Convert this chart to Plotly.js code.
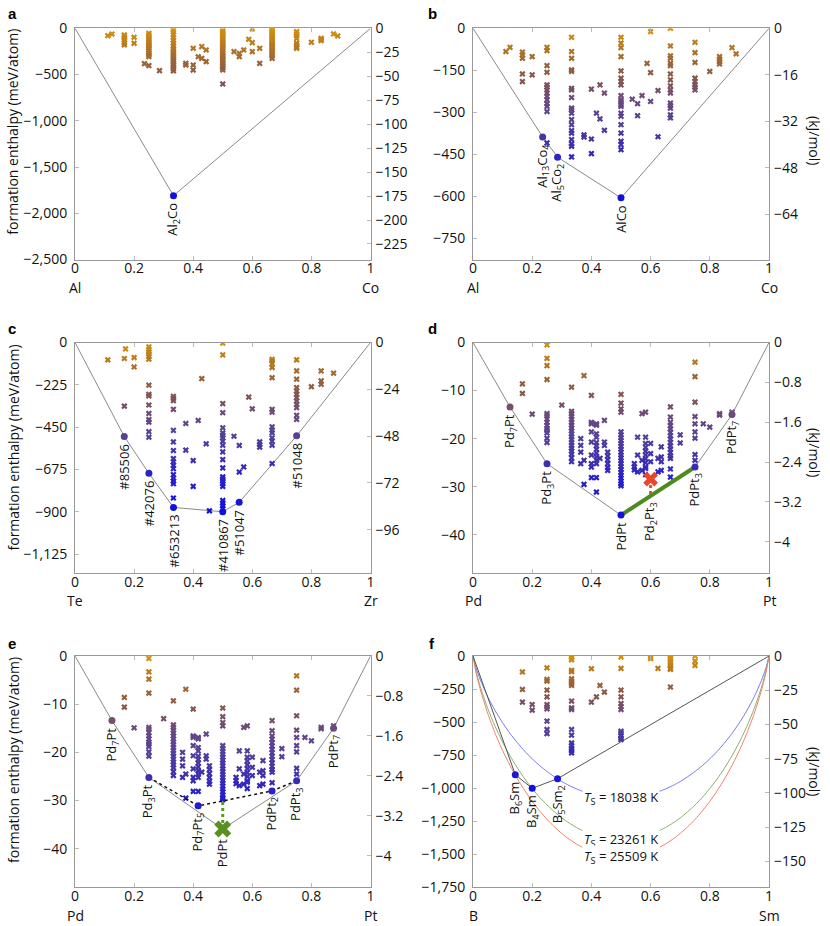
<!DOCTYPE html>
<html><head><meta charset="utf-8">
<script src="https://cdn.plot.ly/plotly-3.0.1.min.js"></script>
<style>html,body{margin:0;padding:0;background:#fff}#plot{width:830px;height:926px}</style>
</head><body><div id="plot"></div>
<script>
// meV/atom -> kJ/mol conversion for the right-hand axes
const K = 0.0964853;

// ---------- panel a : Al-Co ----------
const aComp = [0.111,0.125,0.167,0.2,0.235,0.25,0.286,0.333,0.375,0.4,0.417,0.429,0.444,0.5,0.538,0.556,0.571,0.588,0.6,0.625,0.667,0.75,0.8,0.833,0.875,0.889];
const aE = [[-80],[-62],[-72,-90,-108,-126,-162,-180],[-97,-162],[-382],
 [-54,-70,-90,-110,-130,-150,-170,-190,-210,-230,-250,-270,-290,-307,-404],[-458],
 [-18,-40,-70,-100,-130,-160,-190,-220,-240,-260,-280,-300,-320,-340,-360,-380,-400,-420,-440,-460],
 [-379,-397],[-216,-397,-451],[-307],[-198,-325],[-234,-360],
 [-25,-40,-55,-70,-90,-110,-130,-150,-170,-190,-210,-230,-250,-270,-290,-310,-330,-350,-370,-390,-410,-430,-450,-602],
 [-252],[-270,-307],[-234],[-119],[-7,-155,-252],[-216,-379],
 [0,-20,-40,-60,-80,-100,-120,-140,-160,-180,-200,-220,-240,-260,-280,-300,-325],
 [-36,-60,-80,-110,-160,-180,-200,-216],[-151],[-108,-120,-133],[-61],[-83]];
const aHullX = [0,0.3333,1];
const aHullY = [0,-1810,0];
const aMarkX = [0.3333];
const aMarkY = [-1810];
const aLabels = ['Al<sub>2</sub>Co'];

// ---------- panel b : Al-Co ----------
const bComp = [0.111,0.125,0.167,0.2,0.25,0.333,0.375,0.4,0.417,0.429,0.444,0.5,0.538,0.556,0.571,0.588,0.6,0.625,0.667,0.75,0.8,0.833,0.875,0.889];
const bE = [[-83],[-68],[-85,-95,-107,-163,-190],[-101,-166],
 [-68,-80,-133,-157,-202,-210,-220,-231,-243,-255,-269,-279,-297,-409],
 [-32,-83,-107,-148,-154,-214,-220,-247,-285,-291,-303,-326,-344,-365,-374,-397,-412,-421,-459],
 [-380,-388],[-217,-395,-447],[-303],[-202,-323],[-231,-364],
 [-32,-53,-69,-101,-152,-178,-190,-202,-240,-255,-261,-273,-279,-303,-314,-344,-374,-403,-415,-433],
 [-253],[-269,-312],[-240],[-125],[-12,-158,-261],[-222,-387],
 [0,-63,-98,-107,-125,-133,-163,-184,-205,-220,-231,-267,-276,-285,-309,-320],
 [-50,-87,-122,-178,-190,-202,-210,-220],[-154],[-101,-110,-119,-127],[-69],[-91]];
const bHullX = [0,0.2353,0.2857,0.5,1];
const bHullY = [0,-388,-460,-605,0];
const bMarkX = [0.2353,0.2857,0.5];
const bMarkY = [-388,-460,-605];
const bLabels = ['Al<sub>13</sub>Co<sub>4</sub>','Al<sub>5</sub>Co<sub>2</sub>','AlCo'];

// ---------- panel c : Te-Zr ----------
const cComp = [0.111,0.167,0.171,0.2,0.25,0.333,0.375,0.4,0.417,0.429,0.444,0.455,0.5,0.538,0.556,0.571,0.588,0.6,0.625,0.667,0.75,0.8,0.833,0.875];
const cE = [[-92],[-85,-338],[-34],[-80,-130],
 [-23,-36,-50,-62,-75,-89,-227,-275,-284,-332,-377,-410,-423,-474,-503],
 [-286,-297,-309,-355,-467,-528,-574,-617,-634,-652,-670,-702,-720,-737,-750,-826],
 [-430,-572],[-627,-764],[-414],[-192],[-538],[-894],
 [-4,-66,-325,-373,-453,-480,-492,-506,-524,-546,-581,-622,-666,-714,-725,-737,-750,-764,-839,-853,-867,-883],
 [-498],[-547,-688],[-661],[-290],[-352],[-528,-542,-556],
 [-89,-98,-112,-133,-187,-355,-370,-448,-466,-480,-506,-524,-546,-643],
 [-92,-151,-195,-240,-258,-275,-293,-311,-329,-346,-387,-409],[-235],[-151,-204,-222],[-163]];
const cHullX = [0,0.1667,0.25,0.3333,0.5,0.5556,0.75,1];
const cHullY = [0,-499,-695,-876,-899,-849,-496,0];
const cMarkX = [0.1667,0.25,0.3333,0.5,0.5556,0.75];
const cMarkY = [-499,-695,-876,-899,-849,-496];
const cLabels = ['#85506','#42076','#653213','#410867','#51047','#51048'];

// ---------- panels d and e : Pd-Pt ----------
const dComp = [0.167,0.2,0.25,0.3,0.333,0.364,0.375,0.4,0.417,0.429,0.444,0.455,0.5,0.545,0.556,0.571,0.583,0.6,0.625,0.636,0.667,0.7,0.75,0.778,0.8,0.833,0.875];
const dE = [[-8.6,-10.6],[-14.9],
 [-0.5,-3.3,-4.8,-7.7,-14.8,-15.2,-15.9,-16.6,-17.2,-17.9,-18.3,-18.8,-19.9,-20.8],[-13.0],
 [-9.3,-14.3,-14.8,-15.4,-16,-16.6,-17.2,-17.8,-18.4,-19,-19.6,-20.2,-20.8,-21.4,-22,-22.6,-23.2,-24,-24.8],
 [-20,-21.4,-22.8,-25.2],[-6.9,-24.5,-29.5],[-11,-16.6,-16.9,-18.6,-20.7,-23.4,-25.2,-25.9,-28.1],
 [-16.9,-17.2,-19,-19.7,-20.8,-21.5,-22.2,-23,-23.8,-24.5,-25.2,-28.1,-31.1],[-24.1],[-16.2,-20.7,-21.4],
 [-22.8,-23.6,-24.4,-25.2,-26,-26.6],
 [-10.8,-12.6,-13.8,-14.5,-18.6,-19.2,-19.8,-20.4,-21,-21.6,-22.2,-22.8,-23.4,-24,-24.6,-25.2,-25.8,-26.4,-27,-27.6,-28.2,-28.8,-29.4,-29.8],
 [-25.2,-25.9,-26.5],[-19.7,-23.4,-26.9],[-14.8,-24.5,-26.6],
 [-14.5,-19.7,-21,-21.8,-22.6,-23.4,-24.2,-25,-25.9,-26.2,-27.5],[-21,-23.1,-24.8],[-24.1,-26.9],
 [-21.7,-23.8,-24.8,-26.6],
 [-13.4,-15.5,-16.6,-17.3,-18,-18.7,-19.4,-20.1,-20.8,-21.5,-22.2,-22.9,-23.6,-24.1,-26.3,-28],
 [-19.2,-20.9],[-4.1,-7.1,-12.4,-15.4,-16.9,-18.6,-19.9,-23.3,-24.5],[-16.9],[-17.6],[-14.8,-15.1],[-14.5]];
const dHullX = [0,0.125,0.25,0.5,0.75,0.875,1];
const dHullY = [0,-13.4,-25.2,-35.9,-25.9,-15.0,0];
const dMarkX = [0.125,0.25,0.5,0.75,0.875];
const dMarkY = [-13.4,-25.2,-35.9,-25.9,-15.0];
const dLabels = ['Pd<sub>7</sub>Pt','Pd<sub>3</sub>Pt','PdPt','PdPt<sub>3</sub>','PdPt<sub>7</sub>'];
const dTieX = [0.5,0.75];            // green tie line PdPt - PdPt3
const dTieY = [-35.9,-25.9];
const dNewX = [0.6];                 // red cross Pd2Pt3
const dNewY = [-28.4];
const dNewHullY = [-31.9];
const dNewLabel = ['Pd<sub>2</sub>Pt<sub>3</sub>'];

const eMarkX = [0.125,0.25,0.4167,0.6667,0.75,0.875];
const eMarkY = [-13.4,-25.2,-31.1,-28.0,-25.9,-15.0];
const eLabels = ['Pd<sub>7</sub>Pt','Pd<sub>3</sub>Pt','Pd<sub>7</sub>Pt<sub>5</sub>','PdPt<sub>2</sub>','PdPt<sub>3</sub>','PdPt<sub>7</sub>'];
const eTieX = [0.25,0.4167,0.6667,0.75];  // dotted hull without PdPt
const eTieY = [-25.2,-31.1,-28.0,-25.9];
const eOldX = [0.5];                       // green cross PdPt
const eOldY = [-35.9];
const eOldTieY = [-30.1];
const eOldLabel = ['PdPt'];

// ---------- panel f : B-Sm ----------
const fComp = [0.167,0.2,0.25,0.333,0.4,0.417,0.429,0.444,0.5,0.6,0.625,0.667,0.75];
const fE = [[-121,-253,-349],[-367,-410],
 [-89,-177,-190,-258,-309,-367,-384,-400,-493,-556,-587],
 [-5,-18,-30,-109,-119,-172,-190,-207,-223,-341,-392,-405,-556,-599,-658,-678,-700,-716,-733],
 [-96,-349],[-309],[-223],[-273],
 [-8,-94,-258,-309,-359,-384,-405,-569,-582,-602,-620,-632],
 [-10,-20],[-94],[0,-13,-25,-43,-58,-76,-94,-101,-235],[0,-38,-71]];
const fHullX = [0,0.1429,0.2,0.2857,1];
const fHullY = [0,-898,-1001,-928,0];
const fMarkX = [0.1429,0.2,0.2857];
const fMarkY = [-898,-1001,-928];
const fLabels = ['B<sub>6</sub>Sm','B<sub>4</sub>Sm','B<sub>5</sub>Sm<sub>2</sub>'];
// entropy-stabilisation curves
const fCurveX = [0,0.01,0.025,0.05,0.075,0.1,0.125,0.15,0.175,0.2,0.225,0.25,0.275,0.3,0.325,0.35,0.375,0.4,0.425,0.45,0.475,0.5,
 0.525,0.55,0.575,0.6,0.625,0.65,0.675,0.7,0.725,0.75,0.775,0.8,0.825,0.85,0.875,0.9,0.925,0.95,0.975,0.99,1];
const fBlue = [0,-87,-182,-309,-414,-505,-586,-657,-721,-778,-829,-874,-914,-950,-980,-1006,-1028,-1046,-1060,-1070,-1075,-1077,
 -1075,-1070,-1060,-1046,-1028,-1006,-980,-950,-914,-874,-829,-778,-721,-657,-586,-505,-414,-309,-182,-87,0];
const fGreen = [0,-112,-234,-398,-534,-652,-755,-847,-930,-1003,-1069,-1127,-1179,-1225,-1264,-1298,-1326,-1349,-1367,-1379,-1387,-1389,
 -1387,-1379,-1367,-1349,-1326,-1298,-1264,-1225,-1179,-1127,-1069,-1003,-930,-847,-755,-652,-534,-398,-234,-112,0];
const fRed = [0,-123,-257,-436,-586,-715,-828,-929,-1019,-1100,-1172,-1236,-1293,-1343,-1386,-1423,-1454,-1479,-1499,-1513,-1521,-1524,
 -1521,-1513,-1499,-1479,-1454,-1423,-1386,-1343,-1293,-1236,-1172,-1100,-1019,-929,-828,-715,-586,-436,-257,-123,0];
const fTemps = ['18038','23261','25509'];

// ---------- drawing ----------
const FONT = 'Open Sans';
const CS = [[0,'#1010e0'],[0.22,'#2a22c8'],[0.3,'#3c2eb0'],[0.44,'#52409a'],[0.58,'#6c4a7c'],[0.7,'#86584e'],[0.8,'#9c6536'],[0.9,'#ba7a1e'],[1,'#d8930a']];
const COLS = {L:[75/830,370.5/830], R:[473/830,769/830]};
const ROWS = [[1-259.5/926,1-28.3/926],[1-573.3/926,1-342.5/926],[1-887.3/926,1-656/926]];

function flat(comp,E){const x=[],y=[];comp.forEach((c,i)=>E[i].forEach(v=>{x.push(c);y.push(v);}));return {x,y};}

const panels = [
 {n:1,letter:'a',col:'L',row:0,comp:aComp,E:aE,hx:aHullX,hy:aHullY,mx:aMarkX,my:aMarkY,lab:aLabels,ymin:-2500,dy:500,dr:25,el:['Al','Co'],left:true},
 {n:2,letter:'b',col:'R',row:0,comp:bComp,E:bE,hx:bHullX,hy:bHullY,mx:bMarkX,my:bMarkY,lab:bLabels,ymin:-825,dy:150,dr:16,el:['Al','Co'],right:true},
 {n:3,letter:'c',col:'L',row:1,comp:cComp,E:cE,hx:cHullX,hy:cHullY,mx:cMarkX,my:cMarkY,lab:cLabels,ymin:-1226,dy:225,dr:24,el:['Te','Zr'],left:true},
 {n:4,letter:'d',col:'R',row:1,comp:dComp,E:dE,hx:dHullX,hy:dHullY,mx:dMarkX,my:dMarkY,lab:dLabels,ymin:-48,dy:10,dr:0.8,el:['Pd','Pt'],right:true},
 {n:5,letter:'e',col:'L',row:2,comp:dComp,E:dE,hx:dHullX,hy:dHullY,mx:eMarkX,my:eMarkY,lab:eLabels,ymin:-48,dy:10,dr:0.8,el:['Pd','Pt'],left:true,cmin:-35.9},
 {n:6,letter:'f',col:'R',row:2,comp:fComp,E:fE,hx:fHullX,hy:fHullY,mx:fMarkX,my:fMarkY,lab:fLabels,ymin:-1750,dy:250,dr:25,el:['B','Sm'],right:true,hullColor:'#555'}
];

const traces=[], annotations=[];
const layout = {width:830,height:926,margin:{l:0,r:0,t:0,b:0},paper_bgcolor:'#fff',plot_bgcolor:'#fff',showlegend:false,
  font:{family:FONT,size:13,color:'#111'}};
const tickFont = {family:FONT,size:14,color:'#111'};
const lblFont = {family:FONT,size:13,color:'#111'};

panels.forEach(p=>{
  const xs = p.n===1?'':String(p.n);
  const yl = 2*p.n-1, yr = 2*p.n;
  const ylS = yl===1?'':String(yl), yrS=String(yr);
  const xref='x'+xs, yref='y'+ylS, yrref='y'+yrS;
  const cmin = p.cmin!==undefined?p.cmin:Math.min(...p.my);
  layout['xaxis'+xs] = {domain:COLS[p.col],anchor:yref,range:[0,1],tick0:0,dtick:0.2,ticks:'inside',ticklen:4,tickcolor:'#bbb',
    showline:true,linecolor:'#999',linewidth:1,mirror:'ticks',showgrid:false,zeroline:false,tickfont:tickFont,ticklabelstandoff:-4};
  layout['yaxis'+ylS] = {domain:ROWS[p.row],anchor:xref,range:[p.ymin,0],tick0:0,dtick:p.dy,ticks:'inside',ticklen:4,tickcolor:'#bbb',
    showline:true,linecolor:'#999',linewidth:1,mirror:true,showgrid:false,zeroline:false,separatethousands:true,tickfont:tickFont,ticklabelstandoff:4};
  layout['yaxis'+yrS] = {overlaying:yref,side:'right',anchor:xref,range:[p.ymin*K,0],tick0:0,dtick:p.dr,ticks:'inside',ticklen:4,tickcolor:'#bbb',
    showline:false,showgrid:false,zeroline:false,tickfont:tickFont,ticklabelstandoff:4};
  traces.push({type:'scatter',x:[],y:[],xaxis:xref,yaxis:yrref,mode:'none',hoverinfo:'skip'});

  // entropy curves in f
  if(p.n===6){
    [[fBlue,'#7878f4'],[fGreen,'#86b06a'],[fRed,'#ee806c']].forEach(([cy,col])=>{
      traces.push({type:'scatter',mode:'lines',x:fCurveX,y:cy,xaxis:xref,yaxis:yref,line:{color:col,width:1,shape:'spline',smoothing:0.6},hoverinfo:'skip'});
    });
  }
  // hull line
  traces.push({type:'scatter',mode:'lines',x:p.hx,y:p.hy,xaxis:xref,yaxis:yref,line:{color:p.hullColor||'#8a8a8a',width:1},hoverinfo:'skip'});
  // candidate structures
  const f = flat(p.comp,p.E);
  traces.push({type:'scatter',mode:'markers',x:f.x,y:f.y,xaxis:xref,yaxis:yref,
    marker:{symbol:'x',size:5.5,color:f.y,cmin:cmin,cmax:0,colorscale:CS,line:{width:0}},hoverinfo:'skip'});
  // extra decorations for d and e
  if(p.n===4){
    traces.push({type:'scatter',mode:'lines',x:dTieX,y:dTieY,xaxis:xref,yaxis:yref,line:{color:'#4f8a1e',width:4},hoverinfo:'skip'});
    traces.push({type:'scatter',mode:'lines',x:[dNewX[0],dNewX[0]],y:[dNewY[0],dNewHullY[0]],xaxis:xref,yaxis:yref,line:{color:'#e8502c',width:3,dash:'dot'},hoverinfo:'skip'});
    traces.push({type:'scatter',mode:'markers',x:dNewX,y:dNewY,xaxis:xref,yaxis:yref,marker:{symbol:'x',size:13,color:'#e8482a'},hoverinfo:'skip'});
    annotations.push({x:dNewX[0],y:dNewHullY[0],xref,yref,text:dNewLabel[0],showarrow:false,textangle:-90,xanchor:'center',yanchor:'top',yshift:-4,font:lblFont});
  }
  if(p.n===5){
    traces.push({type:'scatter',mode:'lines',x:eTieX,y:eTieY,xaxis:xref,yaxis:yref,line:{color:'#111',width:1.5,dash:'dot'},hoverinfo:'skip'});
    traces.push({type:'scatter',mode:'lines',x:[eOldX[0],eOldX[0]],y:[eOldY[0],eOldTieY[0]],xaxis:xref,yaxis:yref,line:{color:'#5a9a22',width:3,dash:'dot'},hoverinfo:'skip'});
    traces.push({type:'scatter',mode:'markers',x:eOldX,y:eOldY,xaxis:xref,yaxis:yref,marker:{symbol:'x',size:15,color:'#5a9022'},hoverinfo:'skip'});
    annotations.push({x:eOldX[0],y:eOldY[0],xref,yref,text:eOldLabel[0],showarrow:false,textangle:-90,xanchor:'center',yanchor:'top',yshift:-7,font:lblFont});
  }
  // hull vertices
  traces.push({type:'scatter',mode:'markers',x:p.mx,y:p.my,xaxis:xref,yaxis:yref,
    marker:{symbol:'circle',size:7,color:p.my,cmin:cmin,cmax:0,colorscale:CS},hoverinfo:'skip'});
  p.lab.forEach((t,i)=>annotations.push({x:p.mx[i],y:p.my[i],xref,yref,text:t,showarrow:false,textangle:-90,xanchor:'center',yanchor:'top',yshift:-5,font:lblFont}));

  // panel letter
  const px = p.col==='L'?12:432, py = [14,329,643][p.row];
  annotations.push({x:px/830,y:1-py/926,xref:'paper',yref:'paper',text:'<b>'+p.letter+'</b>',showarrow:false,xanchor:'center',yanchor:'middle',font:{family:'Liberation Sans',size:15,color:'#000'}});
  // element names
  p.el.forEach((t,i)=>annotations.push({x:i,y:-0.12,xref,yref:yref+' domain',text:t,showarrow:false,xanchor:'center',yanchor:'middle',font:{family:FONT,size:14,color:'#111'}}));
  if(p.left){
    const cy=[131.7,447.5,760][p.row];
    annotations.push({x:13/830,y:1-cy/926,xref:'paper',yref:'paper',text:'formation enthalpy (meV/atom)',textangle:-90,showarrow:false,xanchor:'center',yanchor:'middle',font:{family:FONT,size:14,color:'#111'}});
  }
  if(p.right){
    const cy=[140,452,771][p.row];
    annotations.push({x:815/830,y:1-cy/926,xref:'paper',yref:'paper',text:'(kJ/mol)',textangle:90,showarrow:false,xanchor:'center',yanchor:'middle',font:{family:FONT,size:14,color:'#111'}});
  }
  if(p.n===6){
    [[fBlue,0],[fGreen,1],[fRed,2]].forEach(([cy,i])=>{
      const k = fCurveX.indexOf(0.5);
      annotations.push({x:0.5,y:cy[k],xref,yref,text:'<i>T</i><sub>S</sub> = '+fTemps[i]+' K',showarrow:false,xanchor:'center',yanchor:'middle',bgcolor:'#fff',borderpad:1,font:lblFont});
    });
  }
});
layout.annotations = annotations;
Plotly.newPlot('plot',traces,layout,{staticPlot:true,displayModeBar:false});
</script></body></html>
